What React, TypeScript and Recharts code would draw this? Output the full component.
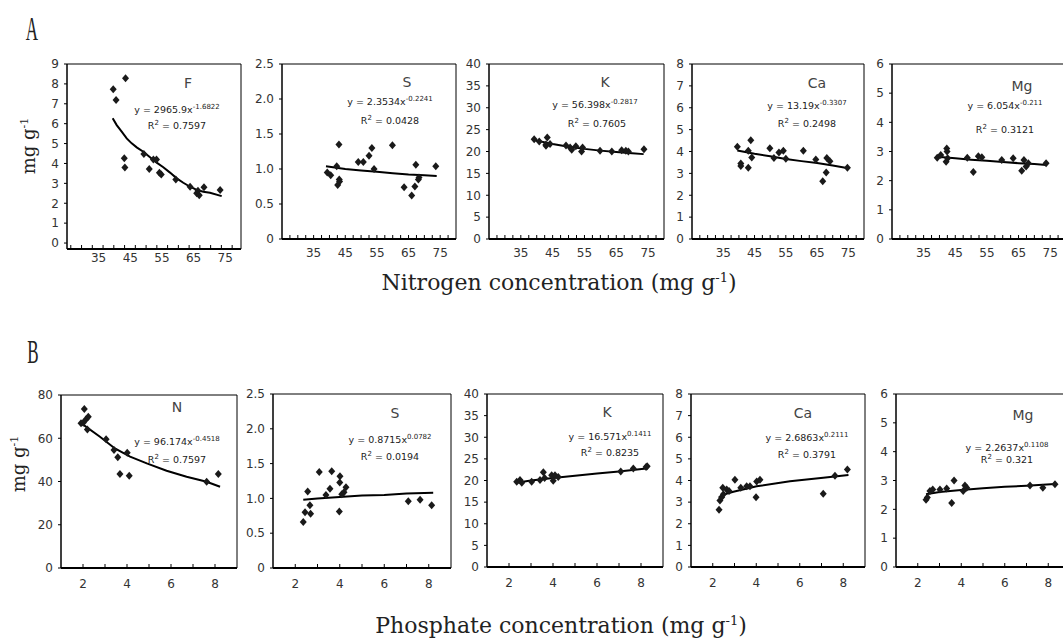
import React from "react";
import { ComposedChart, Scatter, Line, XAxis, YAxis, ReferenceArea } from "recharts";

type Pt = { x: number; y: number };

// ---- axis ticks ----
const nitrogenLabels = ["35", "45", "55", "65", "75"];
const phosphateLabels = ["2", "4", "6", "8"];
const nitrogenMarks = [27.5, 30, 32.5, 35, 37.5, 40, 42.5, 45, 47.5, 50, 52.5, 55, 57.5, 60, 62.5, 65, 67.5, 70, 72.5, 75, 77.5];
const nitrogenMarksF = [26.2, 29.6, 33, 36.4, 39.8, 43.2, 46.6, 50, 53.4, 56.8, 60.2, 63.6, 67, 70.4, 73.8, 77.2];
const phosphateMarks = [2, 3, 4, 5, 6, 7, 8];

const ticksF = [0, 1, 2, 3, 4, 5, 6, 7, 8, 9];
const ticksS = [0, 0.5, 1, 1.5, 2, 2.5];
const ticksK = [0, 5, 10, 15, 20, 25, 30, 35, 40];
const ticksCa = [0, 1, 2, 3, 4, 5, 6, 7, 8];
const ticksMg = [0, 1, 2, 3, 4, 5, 6];
const ticksN = [0, 20, 40, 60, 80];

// ---- A: nutrient vs nitrogen ----
const fPoints: Pt[] = [
  { x: 39.6, y: 7.73 }, { x: 40.5, y: 7.19 }, { x: 43.5, y: 8.28 }, { x: 43.1, y: 4.26 },
  { x: 43.3, y: 3.8 }, { x: 49.3, y: 4.47 }, { x: 51.0, y: 3.72 }, { x: 52.3, y: 4.2 },
  { x: 53.3, y: 4.2 }, { x: 54.2, y: 3.53 }, { x: 54.8, y: 3.45 }, { x: 59.4, y: 3.2 },
  { x: 63.9, y: 2.83 }, { x: 66.0, y: 2.5 }, { x: 66.4, y: 2.63 }, { x: 68.3, y: 2.8 },
  { x: 66.8, y: 2.4 }, { x: 73.4, y: 2.66 },
];
const fTrend: Pt[] = [
  { x: 39.44, y: 6.27 }, { x: 40.71, y: 5.93 }, { x: 42.29, y: 5.6 }, { x: 43.87, y: 5.26 },
  { x: 45.45, y: 5.01 }, { x: 47.03, y: 4.81 }, { x: 49.12, y: 4.59 }, { x: 51.24, y: 4.31 },
  { x: 53.35, y: 4.04 }, { x: 55.44, y: 3.81 }, { x: 57.56, y: 3.54 }, { x: 59.68, y: 3.25 },
  { x: 61.76, y: 3.03 }, { x: 63.88, y: 2.83 }, { x: 66.0, y: 2.67 }, { x: 68.08, y: 2.58 },
  { x: 70.2, y: 2.53 }, { x: 73.9, y: 2.36 },
];

const sPoints: Pt[] = [
  { x: 39.3, y: 0.95 }, { x: 40.4, y: 0.91 }, { x: 42.3, y: 1.04 }, { x: 43.0, y: 1.35 },
  { x: 43.1, y: 0.85 }, { x: 42.6, y: 0.77 }, { x: 43.2, y: 0.82 }, { x: 49.1, y: 1.1 },
  { x: 50.7, y: 1.1 }, { x: 52.5, y: 1.19 }, { x: 53.4, y: 1.3 }, { x: 54.1, y: 1.0 },
  { x: 59.9, y: 1.34 }, { x: 63.6, y: 0.74 }, { x: 66.0, y: 0.62 }, { x: 67.0, y: 0.75 },
  { x: 67.3, y: 1.06 }, { x: 68.3, y: 0.88 }, { x: 68.1, y: 0.85 }, { x: 73.6, y: 1.04 },
];
const sTrend: Pt[] = [
  { x: 38.9, y: 1.04 }, { x: 45, y: 1.0 }, { x: 50, y: 0.98 }, { x: 55, y: 0.96 },
  { x: 60, y: 0.94 }, { x: 65, y: 0.92 }, { x: 70, y: 0.91 }, { x: 73.9, y: 0.9 },
];

const kPoints: Pt[] = [
  { x: 39.2, y: 22.8 }, { x: 40.8, y: 22.3 }, { x: 42.9, y: 21.6 }, { x: 43.3, y: 23.2 },
  { x: 42.9, y: 21.3 }, { x: 44.2, y: 21.7 }, { x: 49.2, y: 21.4 }, { x: 50.5, y: 20.9 },
  { x: 51.0, y: 20.4 }, { x: 52.3, y: 21.2 }, { x: 54.1, y: 20.0 }, { x: 54.4, y: 20.9 },
  { x: 59.9, y: 20.2 }, { x: 63.6, y: 20.0 }, { x: 66.7, y: 20.3 }, { x: 68.0, y: 20.2 },
  { x: 68.8, y: 20.0 }, { x: 73.7, y: 20.5 },
];
const kTrend: Pt[] = [
  { x: 39.2, y: 22.6 }, { x: 45, y: 21.7 }, { x: 50, y: 21.1 }, { x: 55, y: 20.6 },
  { x: 60, y: 20.2 }, { x: 65, y: 19.9 }, { x: 70, y: 19.6 }, { x: 73.6, y: 19.4 },
];

const caPoints: Pt[] = [
  { x: 39.5, y: 4.22 }, { x: 40.6, y: 3.45 }, { x: 40.6, y: 3.34 }, { x: 43.0, y: 4.03 },
  { x: 43.0, y: 3.26 }, { x: 43.8, y: 4.52 }, { x: 44.1, y: 3.73 }, { x: 49.9, y: 4.15 },
  { x: 51.2, y: 3.7 }, { x: 52.8, y: 3.96 }, { x: 54.2, y: 4.03 }, { x: 55.0, y: 3.67 },
  { x: 60.6, y: 4.03 }, { x: 64.6, y: 3.63 }, { x: 66.8, y: 2.64 }, { x: 67.9, y: 3.04 },
  { x: 68.1, y: 3.7 }, { x: 69.1, y: 3.56 }, { x: 74.7, y: 3.26 },
];
const caTrend: Pt[] = [
  { x: 39.5, y: 4.05 }, { x: 45, y: 3.9 }, { x: 50, y: 3.78 }, { x: 55, y: 3.66 },
  { x: 60, y: 3.56 }, { x: 65, y: 3.47 }, { x: 70, y: 3.36 }, { x: 74.5, y: 3.25 },
];

const mgPoints: Pt[] = [
  { x: 39.3, y: 2.79 }, { x: 40.4, y: 2.88 }, { x: 42.3, y: 3.1 }, { x: 42.4, y: 3.0 },
  { x: 42.1, y: 2.65 }, { x: 42.6, y: 2.77 }, { x: 48.8, y: 2.79 }, { x: 50.7, y: 2.3 },
  { x: 52.3, y: 2.84 }, { x: 53.4, y: 2.8 }, { x: 59.7, y: 2.71 }, { x: 63.3, y: 2.77 },
  { x: 66.0, y: 2.34 }, { x: 66.7, y: 2.71 }, { x: 67.4, y: 2.49 }, { x: 68.1, y: 2.6 },
  { x: 73.7, y: 2.6 },
];
const mgTrend: Pt[] = [
  { x: 39.3, y: 2.82 }, { x: 45, y: 2.77 }, { x: 50, y: 2.72 }, { x: 55, y: 2.68 },
  { x: 60, y: 2.64 }, { x: 65, y: 2.6 }, { x: 70, y: 2.57 }, { x: 73.8, y: 2.54 },
];

// ---- B: nutrient vs phosphate ----
const nPoints: Pt[] = [
  { x: 2.06, y: 73.5 }, { x: 1.91, y: 66.9 }, { x: 2.01, y: 67.2 }, { x: 2.14, y: 68.8 },
  { x: 2.24, y: 70.0 }, { x: 2.2, y: 64.1 }, { x: 3.05, y: 59.5 }, { x: 3.41, y: 54.6 },
  { x: 3.58, y: 51.2 }, { x: 3.68, y: 43.5 }, { x: 4.01, y: 53.3 }, { x: 4.1, y: 42.7 },
  { x: 7.62, y: 39.9 }, { x: 8.15, y: 43.5 },
];
const nTrend: Pt[] = [
  { x: 1.91, y: 67.0 }, { x: 2.77, y: 60.7 }, { x: 3.45, y: 55.3 }, { x: 4.14, y: 51.5 },
  { x: 4.9, y: 48.4 }, { x: 5.8, y: 45.0 }, { x: 6.71, y: 42.2 }, { x: 7.62, y: 39.9 },
  { x: 8.23, y: 37.6 },
];

const sbPoints: Pt[] = [
  { x: 2.36, y: 0.66 }, { x: 2.44, y: 0.8 }, { x: 2.56, y: 1.1 }, { x: 2.66, y: 0.9 },
  { x: 2.69, y: 0.78 }, { x: 3.08, y: 1.38 }, { x: 3.38, y: 1.05 }, { x: 3.56, y: 1.14 },
  { x: 3.64, y: 1.39 }, { x: 4.01, y: 1.32 }, { x: 4.0, y: 1.23 }, { x: 3.98, y: 0.81 },
  { x: 4.19, y: 1.09 }, { x: 4.28, y: 1.16 }, { x: 4.09, y: 1.06 }, { x: 7.08, y: 0.96 },
  { x: 7.61, y: 0.98 }, { x: 8.13, y: 0.9 },
];
const sbTrend: Pt[] = [
  { x: 2.36, y: 0.98 }, { x: 3, y: 1.0 }, { x: 4, y: 1.02 }, { x: 5, y: 1.04 },
  { x: 6, y: 1.05 }, { x: 7, y: 1.07 }, { x: 8.2, y: 1.08 },
];

const kbPoints: Pt[] = [
  { x: 2.35, y: 19.7 }, { x: 2.5, y: 20.1 }, { x: 2.58, y: 19.5 }, { x: 3.03, y: 19.7 },
  { x: 3.41, y: 20.1 }, { x: 3.56, y: 21.9 }, { x: 3.62, y: 20.6 }, { x: 3.94, y: 21.2 },
  { x: 4.09, y: 21.2 }, { x: 4.01, y: 19.96 }, { x: 4.24, y: 20.8 }, { x: 7.08, y: 22.1 },
  { x: 7.65, y: 22.8 }, { x: 8.23, y: 23.1 }, { x: 8.28, y: 23.3 },
];
const kbTrend: Pt[] = [
  { x: 2.33, y: 19.5 }, { x: 3, y: 20.0 }, { x: 4, y: 20.6 }, { x: 5, y: 21.1 },
  { x: 6, y: 21.6 }, { x: 7, y: 22.1 }, { x: 8.24, y: 22.8 },
];

const cabPoints: Pt[] = [
  { x: 2.29, y: 2.65 }, { x: 2.33, y: 3.07 }, { x: 2.41, y: 3.22 }, { x: 2.49, y: 3.36 },
  { x: 2.46, y: 3.66 }, { x: 2.64, y: 3.58 }, { x: 2.75, y: 3.51 }, { x: 3.02, y: 4.03 },
  { x: 3.29, y: 3.66 }, { x: 3.56, y: 3.73 }, { x: 3.71, y: 3.73 }, { x: 3.99, y: 3.22 },
  { x: 4.02, y: 3.95 }, { x: 4.17, y: 4.03 }, { x: 7.08, y: 3.39 }, { x: 7.62, y: 4.22 },
  { x: 8.19, y: 4.51 },
];
const cabTrend: Pt[] = [
  { x: 2.29, y: 3.22 }, { x: 2.5, y: 3.35 }, { x: 2.95, y: 3.48 }, { x: 4.02, y: 3.73 },
  { x: 5.55, y: 3.96 }, { x: 7.08, y: 4.13 }, { x: 8.24, y: 4.25 },
];

const mgbPoints: Pt[] = [
  { x: 2.38, y: 2.33 }, { x: 2.44, y: 2.41 }, { x: 2.56, y: 2.64 }, { x: 2.69, y: 2.69 },
  { x: 3.02, y: 2.69 }, { x: 3.33, y: 2.72 }, { x: 3.56, y: 2.22 }, { x: 3.67, y: 3.0 },
  { x: 4.09, y: 2.64 }, { x: 4.17, y: 2.83 }, { x: 4.25, y: 2.75 }, { x: 7.16, y: 2.83 },
  { x: 7.75, y: 2.75 }, { x: 8.31, y: 2.87 },
];
const mgbTrend: Pt[] = [
  { x: 2.38, y: 2.52 }, { x: 3, y: 2.6 }, { x: 4, y: 2.67 }, { x: 5, y: 2.73 },
  { x: 6, y: 2.78 }, { x: 7, y: 2.82 }, { x: 8.3, y: 2.88 },
];

type PanelCfg = {
  name: string;
  coef: string;
  exp: string;
  r2: string;
  points: Pt[];
  trend: Pt[];
  left: number;
  top: number;
  w: number;
  h: number;
  xDomain: [number, number];
  marks: number[];
  labels: string[];
  labelDy: number;
  yDomain: [number, number];
  yTicks: number[];
  decimals?: boolean;
  nameAt: [number, number];
  eqAt: [number, number];
  r2At: [number, number];
};

const N_DOM: [number, number] = [25, 80];
const P_DOM: [number, number] = [1, 9];

const panels: PanelCfg[] = [
  { name: "F", coef: "2965.9", exp: "-1.6822", r2: "0.7597", points: fPoints, trend: fTrend,
    left: 67, top: 64, w: 174, h: 185, xDomain: N_DOM, marks: nitrogenMarksF, labels: nitrogenLabels, labelDy: 13,
    yDomain: [-0.3, 9], yTicks: ticksF, nameAt: [188, 83], eqAt: [177, 110], r2At: [177, 126] },
  { name: "S", coef: "2.3534", exp: "-0.2241", r2: "0.0428", points: sPoints, trend: sTrend,
    left: 282, top: 64, w: 174, h: 175, xDomain: N_DOM, marks: nitrogenMarks, labels: nitrogenLabels, labelDy: 18,
    yDomain: [0, 2.5], yTicks: ticksS, decimals: true, nameAt: [407, 82], eqAt: [390, 102], r2At: [390, 121] },
  { name: "K", coef: "56.398", exp: "-0.2817", r2: "0.7605", points: kPoints, trend: kTrend,
    left: 489, top: 64, w: 175, h: 175, xDomain: N_DOM, marks: nitrogenMarks, labels: nitrogenLabels, labelDy: 18,
    yDomain: [0, 40], yTicks: ticksK, nameAt: [605, 82], eqAt: [595, 105], r2At: [597, 124] },
  { name: "Ca", coef: "13.19", exp: "-0.3307", r2: "0.2498", points: caPoints, trend: caTrend,
    left: 692, top: 64, w: 172, h: 175, xDomain: N_DOM, marks: nitrogenMarks, labels: nitrogenLabels, labelDy: 18,
    yDomain: [0, 8], yTicks: ticksCa, nameAt: [817, 83], eqAt: [807, 106], r2At: [807, 124] },
  { name: "Mg", coef: "6.054", exp: "-0.211", r2: "0.3121", points: mgPoints, trend: mgTrend,
    left: 892, top: 64, w: 174, h: 175, xDomain: N_DOM, marks: nitrogenMarks, labels: nitrogenLabels, labelDy: 18,
    yDomain: [0, 6], yTicks: ticksMg, nameAt: [1022, 86], eqAt: [1005, 106], r2At: [1005, 130] },

  { name: "N", coef: "96.174", exp: "-0.4518", r2: "0.7597", points: nPoints, trend: nTrend,
    left: 61, top: 395, w: 176, h: 173, xDomain: P_DOM, marks: phosphateMarks, labels: phosphateLabels, labelDy: 20,
    yDomain: [0, 80], yTicks: ticksN, nameAt: [177, 407], eqAt: [177, 442], r2At: [177, 460] },
  { name: "S", coef: "0.8715", exp: "0.0782", r2: "0.0194", points: sbPoints, trend: sbTrend,
    left: 273, top: 394, w: 178, h: 174, xDomain: P_DOM, marks: phosphateMarks, labels: phosphateLabels, labelDy: 20,
    yDomain: [0, 2.5], yTicks: ticksS, decimals: true, nameAt: [395, 413], eqAt: [390, 440], r2At: [390, 457] },
  { name: "K", coef: "16.571", exp: "0.1411", r2: "0.8235", points: kbPoints, trend: kbTrend,
    left: 487, top: 394, w: 176, h: 173, xDomain: P_DOM, marks: phosphateMarks, labels: phosphateLabels, labelDy: 20,
    yDomain: [0, 40], yTicks: ticksK, nameAt: [607, 412], eqAt: [610, 437], r2At: [610, 453] },
  { name: "Ca", coef: "2.6863", exp: "0.2111", r2: "0.3791", points: cabPoints, trend: cabTrend,
    left: 691, top: 394, w: 174, h: 173, xDomain: P_DOM, marks: phosphateMarks, labels: phosphateLabels, labelDy: 20,
    yDomain: [0, 8], yTicks: ticksCa, nameAt: [803, 413], eqAt: [807, 438], r2At: [807, 455] },
  { name: "Mg", coef: "2.2637", exp: "0.1108", r2: "0.321", points: mgbPoints, trend: mgbTrend,
    left: 896, top: 394, w: 174, h: 173, xDomain: P_DOM, marks: phosphateMarks, labels: phosphateLabels, labelDy: 20,
    yDomain: [0, 6], yTicks: ticksMg, nameAt: [1023, 415], eqAt: [1007, 448], r2At: [1007, 460] },
];

const TICK_FONT = "DejaVu Sans";
const TICK_COLOR = "#333";

const Diamond = (props: any) => {
  const { cx, cy } = props;
  if (cx == null || cy == null) return null;
  return (
    <path
      d={`M${cx},${cy - 4}L${cx + 3.5},${cy}L${cx},${cy + 4}L${cx - 3.5},${cy}Z`}
      fill="#1a1a1a"
    />
  );
};

function makeXTick(marks: number[], labels: string[], dy: number) {
  return (props: any) => {
    const { x, y, payload } = props;
    const v = Number(payload.value);
    const isMark = marks.some((m) => Math.abs(m - v) < 1e-6);
    const label = labels.find((l) => Math.abs(Number(l) - v) < 1e-6);
    return (
      <g>
        {isMark && <line x1={x} x2={x} y1={y} y2={y - 4} stroke="#000" strokeWidth={1} />}
        {label && (
          <text x={x} y={y + dy} textAnchor="middle" fill={TICK_COLOR} fontSize={12} fontFamily={TICK_FONT}>
            {label}
          </text>
        )}
      </g>
    );
  };
}

function Panel({ p }: { p: PanelCfg }) {
  const ML = 44;
  const MT = 8;
  const MB = 32;
  const MR = 4;
  const w = p.w + ML + MR;
  const h = p.h + MT + MB;
  const xTicks = Array.from(new Set([...p.marks, ...p.labels.map(Number)])).sort((a, b) => a - b);
  return (
    <div style={{ position: "absolute", left: p.left - ML, top: p.top - MT, width: w, height: h }}>
      <ComposedChart width={w} height={h} margin={{ top: MT, right: MR, left: 0, bottom: 0 }}>
        <XAxis
          type="number"
          dataKey="x"
          domain={p.xDomain}
          ticks={xTicks}
          interval={0}
          height={MB}
          tickSize={0}
          tickMargin={0}
          tickLine={false}
          axisLine={{ stroke: "#000", strokeWidth: 2 }}
          tick={makeXTick(p.marks, p.labels, p.labelDy)}
          allowDataOverflow
        />
        <YAxis
          type="number"
          dataKey="y"
          domain={p.yDomain}
          ticks={p.yTicks}
          interval={0}
          width={ML}
          tickSize={3}
          tickMargin={5}
          tickLine={{ stroke: "#000" }}
          axisLine={{ stroke: "#000" }}
          tick={{ fill: TICK_COLOR, fontSize: 12, fontFamily: TICK_FONT }}
          tickFormatter={(v: number) => (p.decimals && v !== 0 ? v.toFixed(1) : String(v))}
          allowDataOverflow
        />
        <ReferenceArea
          x1={p.xDomain[0]}
          x2={p.xDomain[1]}
          y1={p.yDomain[0]}
          y2={p.yDomain[1]}
          fill="none"
          stroke="#000"
          strokeWidth={1}
          ifOverflow="visible"
        />
        <Scatter data={p.points} shape={Diamond} isAnimationActive={false} />
        <Line
          data={p.trend}
          dataKey="y"
          type="linear"
          stroke="#000"
          strokeWidth={2}
          dot={false}
          activeDot={false}
          isAnimationActive={false}
        />
      </ComposedChart>
    </div>
  );
}

function Txt({ at, style, children }: { at: [number, number]; style?: React.CSSProperties; children: React.ReactNode }) {
  return (
    <div
      style={{
        position: "absolute",
        left: at[0],
        top: at[1],
        transform: "translate(-50%, -50%)",
        whiteSpace: "nowrap",
        lineHeight: 1,
        ...style,
      }}
    >
      {children}
    </div>
  );
}

const eqStyle: React.CSSProperties = { fontFamily: "DejaVu Sans", fontSize: 9.5, color: "#222" };
const supStyle: React.CSSProperties = { fontSize: 7, position: "relative", top: -4 };
const titleStyle: React.CSSProperties = { fontFamily: "DejaVu Serif", fontSize: 22, color: "#222" };
const titleSup: React.CSSProperties = { fontSize: 13, position: "relative", top: -8 };

export default function App() {
  return (
    <div style={{ position: "absolute", left: 0, top: 0, width: 1063, height: 638, overflow: "hidden", background: "#fff" }}>
      {panels.map((p, i) => (
        <Panel key={i} p={p} />
      ))}
      {panels.map((p, i) => (
        <React.Fragment key={"t" + i}>
          <Txt at={p.nameAt} style={{ fontFamily: "DejaVu Sans", fontSize: 14, color: "#444" }}>{p.name}</Txt>
          <Txt at={p.eqAt} style={eqStyle}>
            y = {p.coef}x<span style={supStyle}>{p.exp}</span>
          </Txt>
          <Txt at={p.r2At} style={eqStyle}>
            R<span style={supStyle}>2</span> = {p.r2}
          </Txt>
        </React.Fragment>
      ))}

      <Txt at={[32, 29]} style={{ fontFamily: "Liberation Serif", fontSize: 34, color: "#222", transform: "translate(-50%, -50%) scaleX(0.5)" }}>A</Txt>
      <Txt at={[33, 352]} style={{ fontFamily: "Liberation Serif", fontSize: 34, color: "#222", transform: "translate(-50%, -50%) scaleX(0.5)" }}>B</Txt>

      <Txt at={[559, 283]} style={titleStyle}>
        Nitrogen concentration (mg g<span style={titleSup}>-1</span>)
      </Txt>
      <Txt at={[561, 626]} style={titleStyle}>
        Phosphate concentration (mg g<span style={titleSup}>-1</span>)
      </Txt>

      <Txt at={[29, 146]} style={{ ...titleStyle, fontSize: 18, transform: "translate(-50%, -50%) rotate(-90deg)" }}>
        mg g<span style={{ fontSize: 11, position: "relative", top: -7 }}>-1</span>
      </Txt>
      <Txt at={[19, 464]} style={{ ...titleStyle, fontSize: 18, transform: "translate(-50%, -50%) rotate(-90deg)" }}>
        mg g<span style={{ fontSize: 11, position: "relative", top: -7 }}>-1</span>
      </Txt>
    </div>
  );
}
